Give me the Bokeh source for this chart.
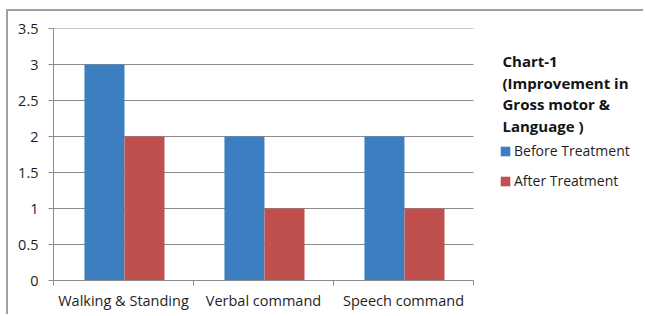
from bokeh.plotting import figure
from bokeh.models import (Range1d, FixedTicker, Legend, LegendItem, Label,
                          ColumnDataSource)
from bokeh.transform import dodge
from bokeh.embed import file_html
from bokeh.resources import INLINE

categories = ["Walking & Standing", "Verbal command", "Speech command"]
before = [3, 2, 2]
after = [2, 1, 1]
title_lines = [" Chart-1", "(Improvement in", "Gross motor &", "Language )"]
series_names = ["Before Treatment", "After Treatment"]
y_ticks = [0, 0.5, 1, 1.5, 2, 2.5, 3, 3.5]

BLUE = "#3C7FC0"
RED = "#C0504D"
FONT = "Open Sans"
GRID = "#8C8C8C"

n = len(categories)
pos = [i + 0.5 for i in range(n)]
src = ColumnDataSource(dict(x=pos, before=before, after=after))

# frame spans the plot area plus the legend area to its right
p = figure(width=637, height=305, output_backend="svg", toolbar_location=None,
           x_range=Range1d(0, 4.2286), y_range=Range1d(0, 3.5),
           min_border_left=45, min_border_right=0, min_border_top=17,
           min_border_bottom=36)
p.outline_line_color = None
p.background_fill_color = "white"
p.border_fill_color = "white"
p.styles = {"margin-left": "6px", "margin-top": "9px",
            "border-left": "2px solid #A0A0A0", "border-top": "2px solid #A0A0A0"}

# horizontal gridlines only across the category area
p.ygrid.grid_line_color = None
p.xgrid.grid_line_color = None
p.segment(x0=0, x1=n, y0=y_ticks, y1=y_ticks, line_color=GRID, line_width=1)

r1 = p.vbar(x=dodge("x", -0.136, range=p.x_range), top="before", width=0.2857,
            source=src, fill_color=BLUE, line_color=None)
r2 = p.vbar(x=dodge("x", 0.15, range=p.x_range), top="after", width=0.2857,
            source=src, fill_color=RED, line_color=None)

xa = p.xaxis[0]
xa.bounds = (0, n)
xa.ticker = FixedTicker(ticks=pos, minor_ticks=list(range(n + 1)))
xa.major_label_overrides = {v: c for v, c in zip(pos, categories)}
xa.major_tick_out = 0
xa.major_tick_in = 0
xa.minor_tick_out = 5
xa.minor_tick_in = 0
xa.minor_tick_line_color = GRID
xa.axis_line_color = GRID
xa.major_label_text_font = FONT
xa.major_label_text_font_size = "14.5px"
xa.major_label_text_color = "#1E1E1E"
xa.major_label_standoff = 5

ya = p.yaxis[0]
ya.ticker = FixedTicker(ticks=y_ticks)
ya.major_tick_out = 5
ya.major_tick_in = 0
ya.minor_tick_out = 0
ya.minor_tick_in = 0
ya.major_tick_line_color = GRID
ya.axis_line_color = GRID
ya.major_label_text_font = FONT
ya.major_label_text_font_size = "14.5px"
ya.major_label_text_color = "#1E1E1E"
ya.major_label_standoff = 10

legend = Legend(items=[LegendItem(label=series_names[0], renderers=[r1]),
                       LegendItem(label=series_names[1], renderers=[r2])],
                location=(446, 90), padding=0, margin=0, spacing=11,
                glyph_width=12, glyph_height=12, label_standoff=3,
                label_text_font=FONT, label_text_font_size="14px",
                label_text_color="#1E1E1E", border_line_color=None,
                background_fill_alpha=0)
p.add_layout(legend, "center")

title_y = [3.055, 2.75, 2.445, 2.14]
for t, ty in zip(title_lines, title_y):
    p.add_layout(Label(x=3.207, y=ty, text=t, text_font=FONT,
                       text_font_size="15px", text_font_style="bold",
                       text_color="#141414", text_baseline="middle"))

open("out.html", "w").write(file_html(p, INLINE))
